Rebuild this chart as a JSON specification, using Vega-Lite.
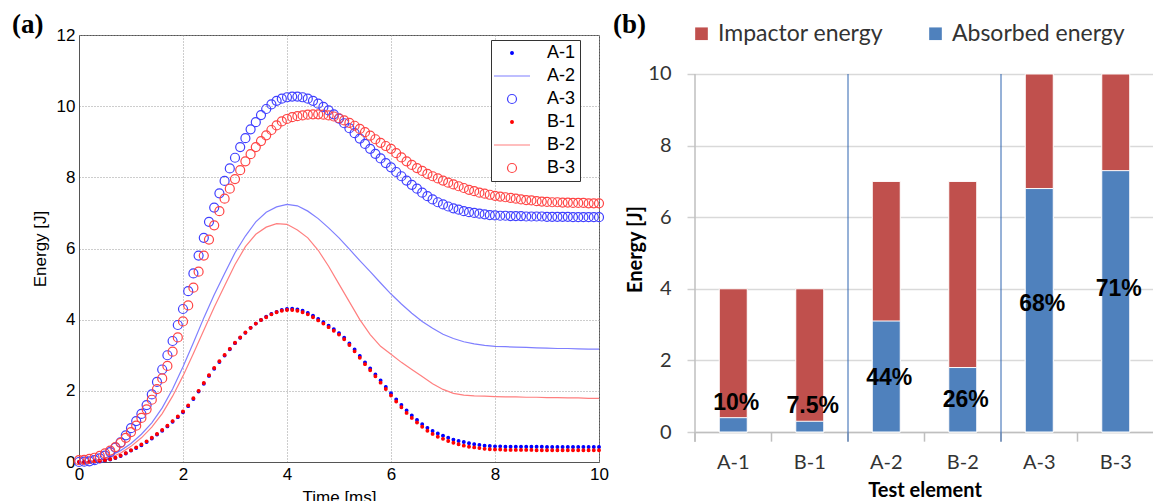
{
"$schema": "https://vega.github.io/schema/vega-lite/v6.json",
"background": "white",
"padding": {"left": 11, "top": 10, "right": 0, "bottom": 0},
"bounds": "flush",
"spacing": 96,
"config": {"view": {"stroke": "#555", "strokeWidth": 1}},
"datasets": {
"pts": [
{"t":0.0,"A-1":0.00,"B-1":0.00,"A-3":0.00,"B-3":0.05},
{"t":0.1,"A-1":0.00,"B-1":0.00,"A-3":0.01,"B-3":0.06},
{"t":0.2,"A-1":0.00,"B-1":0.01,"A-3":0.02,"B-3":0.09},
{"t":0.3,"A-1":0.01,"B-1":0.02,"A-3":0.05,"B-3":0.12},
{"t":0.4,"A-1":0.02,"B-1":0.03,"A-3":0.10,"B-3":0.17},
{"t":0.5,"A-1":0.04,"B-1":0.05,"A-3":0.18,"B-3":0.24},
{"t":0.6,"A-1":0.07,"B-1":0.08,"A-3":0.28,"B-3":0.32},
{"t":0.7,"A-1":0.11,"B-1":0.12,"A-3":0.40,"B-3":0.42},
{"t":0.8,"A-1":0.17,"B-1":0.18,"A-3":0.55,"B-3":0.54},
{"t":0.9,"A-1":0.24,"B-1":0.25,"A-3":0.75,"B-3":0.68},
{"t":1.0,"A-1":0.32,"B-1":0.33,"A-3":0.95,"B-3":0.84},
{"t":1.1,"A-1":0.39,"B-1":0.41,"A-3":1.15,"B-3":1.02},
{"t":1.2,"A-1":0.47,"B-1":0.49,"A-3":1.35,"B-3":1.24},
{"t":1.3,"A-1":0.56,"B-1":0.58,"A-3":1.60,"B-3":1.48},
{"t":1.4,"A-1":0.66,"B-1":0.68,"A-3":1.90,"B-3":1.75},
{"t":1.5,"A-1":0.77,"B-1":0.79,"A-3":2.25,"B-3":2.05},
{"t":1.6,"A-1":0.88,"B-1":0.90,"A-3":2.60,"B-3":2.35},
{"t":1.7,"A-1":1.00,"B-1":1.02,"A-3":3.00,"B-3":2.70},
{"t":1.8,"A-1":1.13,"B-1":1.15,"A-3":3.40,"B-3":3.10},
{"t":1.9,"A-1":1.26,"B-1":1.28,"A-3":3.85,"B-3":3.50},
{"t":2.0,"A-1":1.40,"B-1":1.42,"A-3":4.30,"B-3":3.95},
{"t":2.1,"A-1":1.57,"B-1":1.59,"A-3":4.80,"B-3":4.40},
{"t":2.2,"A-1":1.77,"B-1":1.79,"A-3":5.30,"B-3":4.90},
{"t":2.3,"A-1":1.98,"B-1":2.00,"A-3":5.80,"B-3":5.35},
{"t":2.4,"A-1":2.20,"B-1":2.22,"A-3":6.30,"B-3":5.80},
{"t":2.5,"A-1":2.42,"B-1":2.44,"A-3":6.75,"B-3":6.25},
{"t":2.6,"A-1":2.62,"B-1":2.64,"A-3":7.15,"B-3":6.65},
{"t":2.7,"A-1":2.81,"B-1":2.83,"A-3":7.55,"B-3":7.05},
{"t":2.8,"A-1":2.99,"B-1":3.01,"A-3":7.90,"B-3":7.40},
{"t":2.9,"A-1":3.17,"B-1":3.18,"A-3":8.25,"B-3":7.68},
{"t":3.0,"A-1":3.34,"B-1":3.35,"A-3":8.55,"B-3":7.95},
{"t":3.1,"A-1":3.49,"B-1":3.50,"A-3":8.85,"B-3":8.20},
{"t":3.2,"A-1":3.63,"B-1":3.64,"A-3":9.10,"B-3":8.45},
{"t":3.3,"A-1":3.77,"B-1":3.77,"A-3":9.35,"B-3":8.65},
{"t":3.4,"A-1":3.89,"B-1":3.89,"A-3":9.55,"B-3":8.85},
{"t":3.5,"A-1":3.99,"B-1":3.99,"A-3":9.75,"B-3":9.02},
{"t":3.6,"A-1":4.08,"B-1":4.07,"A-3":9.92,"B-3":9.18},
{"t":3.7,"A-1":4.16,"B-1":4.15,"A-3":10.05,"B-3":9.33},
{"t":3.8,"A-1":4.22,"B-1":4.21,"A-3":10.15,"B-3":9.46},
{"t":3.9,"A-1":4.27,"B-1":4.25,"A-3":10.21,"B-3":9.57},
{"t":4.0,"A-1":4.30,"B-1":4.27,"A-3":10.25,"B-3":9.64},
{"t":4.1,"A-1":4.31,"B-1":4.27,"A-3":10.27,"B-3":9.69},
{"t":4.2,"A-1":4.29,"B-1":4.25,"A-3":10.27,"B-3":9.72},
{"t":4.3,"A-1":4.25,"B-1":4.21,"A-3":10.25,"B-3":9.74},
{"t":4.4,"A-1":4.19,"B-1":4.15,"A-3":10.21,"B-3":9.76},
{"t":4.5,"A-1":4.11,"B-1":4.07,"A-3":10.15,"B-3":9.77},
{"t":4.6,"A-1":4.02,"B-1":3.98,"A-3":10.07,"B-3":9.77},
{"t":4.7,"A-1":3.93,"B-1":3.89,"A-3":9.98,"B-3":9.76},
{"t":4.8,"A-1":3.83,"B-1":3.79,"A-3":9.88,"B-3":9.74},
{"t":4.9,"A-1":3.73,"B-1":3.69,"A-3":9.77,"B-3":9.71},
{"t":5.0,"A-1":3.62,"B-1":3.58,"A-3":9.65,"B-3":9.66},
{"t":5.1,"A-1":3.49,"B-1":3.45,"A-3":9.52,"B-3":9.60},
{"t":5.2,"A-1":3.33,"B-1":3.29,"A-3":9.38,"B-3":9.53},
{"t":5.3,"A-1":3.16,"B-1":3.11,"A-3":9.24,"B-3":9.45},
{"t":5.4,"A-1":2.98,"B-1":2.93,"A-3":9.09,"B-3":9.36},
{"t":5.5,"A-1":2.80,"B-1":2.75,"A-3":8.94,"B-3":9.27},
{"t":5.6,"A-1":2.63,"B-1":2.58,"A-3":8.80,"B-3":9.17},
{"t":5.7,"A-1":2.46,"B-1":2.41,"A-3":8.66,"B-3":9.07},
{"t":5.8,"A-1":2.29,"B-1":2.23,"A-3":8.53,"B-3":8.97},
{"t":5.9,"A-1":2.11,"B-1":2.05,"A-3":8.40,"B-3":8.88},
{"t":6.0,"A-1":1.93,"B-1":1.87,"A-3":8.28,"B-3":8.80},
{"t":6.1,"A-1":1.76,"B-1":1.70,"A-3":8.15,"B-3":8.68},
{"t":6.2,"A-1":1.60,"B-1":1.54,"A-3":8.03,"B-3":8.56},
{"t":6.3,"A-1":1.45,"B-1":1.38,"A-3":7.91,"B-3":8.45},
{"t":6.4,"A-1":1.31,"B-1":1.24,"A-3":7.79,"B-3":8.35},
{"t":6.5,"A-1":1.18,"B-1":1.11,"A-3":7.68,"B-3":8.26},
{"t":6.6,"A-1":1.06,"B-1":0.99,"A-3":7.57,"B-3":8.18},
{"t":6.7,"A-1":0.96,"B-1":0.88,"A-3":7.47,"B-3":8.10},
{"t":6.8,"A-1":0.87,"B-1":0.79,"A-3":7.38,"B-3":8.03},
{"t":6.9,"A-1":0.80,"B-1":0.71,"A-3":7.30,"B-3":7.97},
{"t":7.0,"A-1":0.74,"B-1":0.65,"A-3":7.24,"B-3":7.91},
{"t":7.1,"A-1":0.68,"B-1":0.59,"A-3":7.18,"B-3":7.85},
{"t":7.2,"A-1":0.63,"B-1":0.54,"A-3":7.13,"B-3":7.80},
{"t":7.3,"A-1":0.59,"B-1":0.50,"A-3":7.09,"B-3":7.75},
{"t":7.4,"A-1":0.56,"B-1":0.46,"A-3":7.05,"B-3":7.70},
{"t":7.5,"A-1":0.53,"B-1":0.43,"A-3":7.02,"B-3":7.65},
{"t":7.6,"A-1":0.50,"B-1":0.41,"A-3":7.00,"B-3":7.61},
{"t":7.7,"A-1":0.48,"B-1":0.39,"A-3":6.98,"B-3":7.57},
{"t":7.8,"A-1":0.46,"B-1":0.37,"A-3":6.96,"B-3":7.54},
{"t":7.9,"A-1":0.45,"B-1":0.36,"A-3":6.94,"B-3":7.51},
{"t":8.0,"A-1":0.44,"B-1":0.35,"A-3":6.93,"B-3":7.48},
{"t":8.1,"A-1":0.44,"B-1":0.35,"A-3":6.92,"B-3":7.46},
{"t":8.2,"A-1":0.43,"B-1":0.34,"A-3":6.92,"B-3":7.44},
{"t":8.3,"A-1":0.43,"B-1":0.34,"A-3":6.91,"B-3":7.42},
{"t":8.4,"A-1":0.43,"B-1":0.34,"A-3":6.91,"B-3":7.40},
{"t":8.5,"A-1":0.43,"B-1":0.34,"A-3":6.91,"B-3":7.38},
{"t":8.6,"A-1":0.43,"B-1":0.34,"A-3":6.90,"B-3":7.36},
{"t":8.7,"A-1":0.43,"B-1":0.34,"A-3":6.90,"B-3":7.35},
{"t":8.8,"A-1":0.43,"B-1":0.33,"A-3":6.90,"B-3":7.33},
{"t":8.9,"A-1":0.43,"B-1":0.33,"A-3":6.90,"B-3":7.32},
{"t":9.0,"A-1":0.42,"B-1":0.33,"A-3":6.89,"B-3":7.31},
{"t":9.1,"A-1":0.42,"B-1":0.33,"A-3":6.89,"B-3":7.30},
{"t":9.2,"A-1":0.42,"B-1":0.33,"A-3":6.89,"B-3":7.30},
{"t":9.3,"A-1":0.42,"B-1":0.33,"A-3":6.89,"B-3":7.29},
{"t":9.4,"A-1":0.42,"B-1":0.33,"A-3":6.89,"B-3":7.29},
{"t":9.5,"A-1":0.42,"B-1":0.33,"A-3":6.88,"B-3":7.28},
{"t":9.6,"A-1":0.42,"B-1":0.33,"A-3":6.88,"B-3":7.28},
{"t":9.7,"A-1":0.42,"B-1":0.33,"A-3":6.88,"B-3":7.28},
{"t":9.8,"A-1":0.42,"B-1":0.33,"A-3":6.88,"B-3":7.27},
{"t":9.9,"A-1":0.42,"B-1":0.33,"A-3":6.88,"B-3":7.27},
{"t":10.0,"A-1":0.42,"B-1":0.33,"A-3":6.88,"B-3":7.27}
],
"lns": [
{"t":0.0,"A-2":0.00,"B-2":0.00},
{"t":0.2,"A-2":0.01,"B-2":0.01},
{"t":0.4,"A-2":0.06,"B-2":0.04},
{"t":0.6,"A-2":0.17,"B-2":0.12},
{"t":0.8,"A-2":0.32,"B-2":0.25},
{"t":1.0,"A-2":0.52,"B-2":0.44},
{"t":1.2,"A-2":0.78,"B-2":0.68},
{"t":1.4,"A-2":1.10,"B-2":0.98},
{"t":1.6,"A-2":1.52,"B-2":1.36},
{"t":1.8,"A-2":2.05,"B-2":1.85},
{"t":2.0,"A-2":2.68,"B-2":2.42},
{"t":2.2,"A-2":3.35,"B-2":3.05},
{"t":2.4,"A-2":4.05,"B-2":3.70},
{"t":2.6,"A-2":4.70,"B-2":4.35},
{"t":2.8,"A-2":5.30,"B-2":4.95},
{"t":3.0,"A-2":5.88,"B-2":5.55},
{"t":3.2,"A-2":6.35,"B-2":6.05},
{"t":3.4,"A-2":6.75,"B-2":6.40},
{"t":3.6,"A-2":7.02,"B-2":6.60},
{"t":3.8,"A-2":7.17,"B-2":6.70},
{"t":4.0,"A-2":7.24,"B-2":6.68},
{"t":4.2,"A-2":7.20,"B-2":6.52},
{"t":4.4,"A-2":7.05,"B-2":6.30},
{"t":4.6,"A-2":6.84,"B-2":5.95},
{"t":4.8,"A-2":6.58,"B-2":5.50},
{"t":5.0,"A-2":6.30,"B-2":5.00},
{"t":5.2,"A-2":5.98,"B-2":4.50},
{"t":5.4,"A-2":5.66,"B-2":4.00},
{"t":5.6,"A-2":5.35,"B-2":3.58},
{"t":5.8,"A-2":5.03,"B-2":3.25},
{"t":6.0,"A-2":4.72,"B-2":3.03},
{"t":6.2,"A-2":4.44,"B-2":2.80},
{"t":6.4,"A-2":4.18,"B-2":2.60},
{"t":6.6,"A-2":3.95,"B-2":2.40},
{"t":6.8,"A-2":3.76,"B-2":2.20},
{"t":7.0,"A-2":3.59,"B-2":2.04},
{"t":7.2,"A-2":3.47,"B-2":1.93},
{"t":7.4,"A-2":3.38,"B-2":1.88},
{"t":7.6,"A-2":3.32,"B-2":1.86},
{"t":7.8,"A-2":3.28,"B-2":1.85},
{"t":8.0,"A-2":3.25,"B-2":1.84},
{"t":8.2,"A-2":3.24,"B-2":1.83},
{"t":8.4,"A-2":3.23,"B-2":1.83},
{"t":8.6,"A-2":3.22,"B-2":1.82},
{"t":8.8,"A-2":3.21,"B-2":1.82},
{"t":9.0,"A-2":3.20,"B-2":1.81},
{"t":9.2,"A-2":3.19,"B-2":1.81},
{"t":9.4,"A-2":3.19,"B-2":1.80},
{"t":9.6,"A-2":3.18,"B-2":1.80},
{"t":9.8,"A-2":3.17,"B-2":1.79},
{"t":10.0,"A-2":3.17,"B-2":1.79}
],
"bars": [
{"cat":"A-1","Impactor energy":4,"Absorbed energy":0.4,"pct":"10%","labelY":0.81},
{"cat":"B-1","Impactor energy":4,"Absorbed energy":0.3,"pct":"7.5%","labelY":0.72},
{"cat":"A-2","Impactor energy":7,"Absorbed energy":3.1,"pct":"44%","labelY":1.5},
{"cat":"B-2","Impactor energy":7,"Absorbed energy":1.8,"pct":"26%","labelY":0.9},
{"cat":"A-3","Impactor energy":10,"Absorbed energy":6.8,"pct":"68%","labelY":3.58},
{"cat":"B-3","Impactor energy":10,"Absorbed energy":7.3,"pct":"71%","labelY":4.0}
]
},
"hconcat": [
{
"width": 520, "height": 427,
"title": {"text": "(a)", "anchor": "start", "frame": "group", "font": "Liberation Serif", "fontSize": 27, "fontWeight": "bold", "color": "black", "dx": -67, "offset": 0, "dy": 13},
"layer": [
{
"data": {"name": "lns"},
"transform": [{"fold": ["A-2", "B-2"], "as": ["series", "E"]}],
"mark": {"type": "line", "strokeWidth": 1.2, "opacity": 1},
"encoding": {
"x": {"field": "t", "type": "quantitative", "scale": {"domain": [0, 10], "nice": false},
 "axis": {"title": "Time [ms]", "values": [0,2,4,6,8,10], "grid": true, "gridDash": [1,2], "gridColor": "#9a9a9a", "ticks": false, "domainColor": "#555", "labelFont": "Liberation Sans", "labelFontSize": 17, "labelColor": "black", "labelPadding": 4, "labelFlush": false, "titleFont": "Liberation Sans", "titleFontSize": 17, "titleFontWeight": "normal", "titleColor": "black", "titlePadding": 7}},
"y": {"field": "E", "type": "quantitative", "scale": {"domain": [0, 12], "nice": false},
 "axis": {"title": "Energy [J]", "values": [0,2,4,6,8,10,12], "grid": true, "gridDash": [1,2], "gridColor": "#9a9a9a", "ticks": false, "domainColor": "#555", "labelFont": "Liberation Sans", "labelFontSize": 17, "labelColor": "black", "labelPadding": 4, "labelFlush": false, "titleFont": "Liberation Sans", "titleFontSize": 17, "titleFontWeight": "normal", "titleColor": "black", "titlePadding": 7}},
"stroke": {"field": "series", "type": "nominal", "scale": {"domain": ["A-1","A-2","A-3","B-1","B-2","B-3"], "range": ["#0000ff","#7f7fff","#4040ff","#ff0000","#ff7f7f","#ff4545"]},
 "legend": {"orient": "none", "legendX": 412, "legendY": 5, "title": null, "strokeColor": "#333", "fillColor": "white", "padding": 4, "labelFont": "Liberation Sans", "labelFontSize": 18, "labelColor": "black", "labelOffset": 26, "symbolOffset": 8, "rowPadding": 5, "symbolSize": 81, "symbolStrokeWidth": 1.2, "symbolOpacity": 1}}
}
},
{
"data": {"name": "pts"},
"transform": [{"fold": ["A-1", "A-3", "B-1", "B-3"], "as": ["series", "E"]}],
"mark": {"type": "point", "size": 81, "strokeWidth": 1.2, "opacity": 1},
"encoding": {
"x": {"field": "t", "type": "quantitative"},
"y": {"field": "E", "type": "quantitative"},
"stroke": {"field": "series", "type": "nominal", "scale": {"domain": ["A-1","A-2","A-3","B-1","B-2","B-3"], "range": ["#0000ff","#7f7fff","#4040ff","#ff0000","#ff7f7f","#ff4545"]},
 "legend": {"orient": "none", "legendX": 412, "legendY": 5, "title": null, "strokeColor": "#333", "fillColor": "white", "padding": 4, "labelFont": "Liberation Sans", "labelFontSize": 18, "labelColor": "black", "labelOffset": 26, "symbolOffset": 8, "rowPadding": 5, "symbolSize": 81, "symbolStrokeWidth": 1.2, "symbolOpacity": 1}},
"fill": {"field": "series", "type": "nominal", "scale": {"domain": ["A-1","A-2","A-3","B-1","B-2","B-3"], "range": ["#0000ff","transparent","transparent","#ff0000","transparent","transparent"]},
 "legend": {"orient": "none", "legendX": 412, "legendY": 5, "title": null, "strokeColor": "#333", "fillColor": "white", "padding": 4, "labelFont": "Liberation Sans", "labelFontSize": 18, "labelColor": "black", "labelOffset": 26, "symbolOffset": 8, "rowPadding": 5, "symbolSize": 81, "symbolStrokeWidth": 1.2, "symbolOpacity": 1}},
"shape": {"field": "series", "type": "nominal", "scale": {"domain": ["A-1","A-2","A-3","B-1","B-2","B-3"], "range": ["M-0.3,0A0.3,0.3 0 1,0 0.3,0A0.3,0.3 0 1,0 -0.3,0Z","M-4,0L4,0","circle","M-0.3,0A0.3,0.3 0 1,0 0.3,0A0.3,0.3 0 1,0 -0.3,0Z","M-4,0L4,0","circle"]},
 "legend": {"orient": "none", "legendX": 412, "legendY": 5, "title": null, "strokeColor": "#333", "fillColor": "white", "padding": 4, "labelFont": "Liberation Sans", "labelFontSize": 18, "labelColor": "black", "labelOffset": 26, "symbolOffset": 8, "rowPadding": 5, "symbolSize": 81, "symbolStrokeWidth": 1.2, "symbolOpacity": 1}}
}
}
]
},
{
"width": 459, "height": 397,
"view": {"stroke": null},
"title": {"text": "(b)", "anchor": "start", "frame": "group", "font": "Liberation Serif", "fontSize": 27, "fontWeight": "bold", "color": "black", "dx": -82, "offset": 0, "dy": 4},
"data": {"name": "bars"},
"layer": [
{
"transform": [{"fold": ["Impactor energy", "Absorbed energy"], "as": ["type", "E"]}],
"mark": {"type": "bar", "size": 28, "stroke": "white", "strokeWidth": 1, "opacity": 1},
"encoding": {
"x": {"field": "cat", "type": "nominal", "sort": null, "scale": {"domain": ["A-1","B-1","A-2","B-2","A-3","B-3"], "paddingInner": 0, "paddingOuter": 0},
 "axis": {"title": "Test element", "labelAngle": 0, "ticks": false, "domainColor": "#bfbfbf", "domainWidth": 1.5, "labelFont": "Lato", "labelFontSize": 20, "labelColor": "#333", "labelPadding": 20, "titleFont": "Lato", "titleFontSize": 20, "titleFontWeight": "bold", "titleColor": "black", "titlePadding": 8}},
"y": {"field": "E", "type": "quantitative", "stack": null, "scale": {"domain": [0, 11.089], "nice": false},
 "axis": {"title": "Energy [J]", "values": [0,2,4,6,8,10], "grid": true, "gridColor": "#d9d9d9", "gridWidth": 1.5, "domain": false, "ticks": true, "tickSize": 8, "tickColor": "#d0d0d0", "tickWidth": 1.5, "labelFont": "Lato", "labelFontSize": 20, "labelColor": "#333", "labelPadding": 16, "titleFont": "Lato", "titleFontSize": 20, "titleFontWeight": "bold", "titleColor": "black", "titlePadding": 2, "titleY": 214}},
"color": {"field": "type", "type": "nominal", "scale": {"domain": ["Impactor energy", "Absorbed energy"], "range": ["#c0504d", "#4f81bd"]},
 "legend": {"orient": "none", "legendX": 611, "legendY": -13, "direction": "horizontal", "title": null, "symbolType": "square", "symbolSize": 160, "symbolStrokeWidth": 0, "labelFont": "Lato", "labelFontSize": 23, "labelColor": "#333", "labelOffset": 5, "labelLimit": 400, "columnPadding": 40}}
}
},
{
"mark": {"type": "rule", "color": "#bfbfbf", "strokeWidth": 1.5},
"encoding": {
"x": {"field": "cat", "type": "nominal", "bandPosition": 0},
"y": {"datum": 0},
"y2": {"datum": -0.27}
}
},
{
"transform": [{"filter": "datum.cat == 'A-1'"}],
"mark": {"type": "rule", "color": "#bfbfbf", "strokeWidth": 1.5},
"encoding": {
"x": {"field": "cat", "type": "nominal", "bandPosition": 0},
"y": {"datum": 10},
"y2": {"datum": -0.27}
}
},
{
"transform": [{"filter": "datum.cat == 'A-2' || datum.cat == 'A-3'"}],
"mark": {"type": "rule", "color": "#2e64b0", "strokeWidth": 1},
"encoding": {
"x": {"field": "cat", "type": "nominal", "bandPosition": 0},
"y": {"datum": 10},
"y2": {"datum": -0.27}
}
},
{
"mark": {"type": "text", "font": "Liberation Sans", "fontSize": 23, "fontWeight": "bold", "color": "black", "baseline": "middle", "dx": 3},
"encoding": {
"x": {"field": "cat", "type": "nominal"},
"y": {"field": "labelY", "type": "quantitative"},
"text": {"field": "pct", "type": "nominal"}
}
}
]
}
]
}
